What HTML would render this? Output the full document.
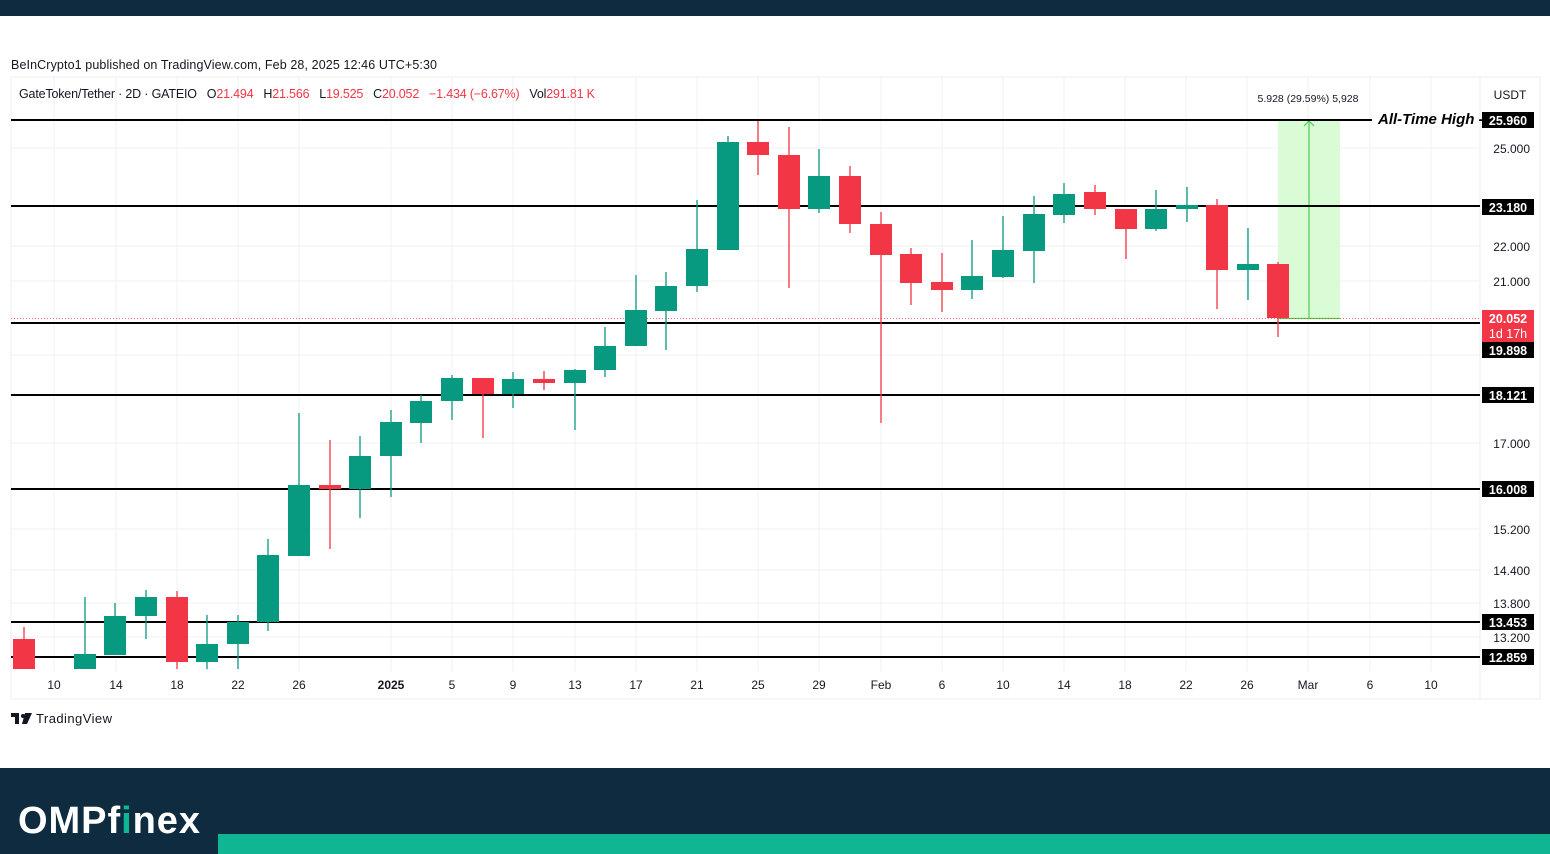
<!DOCTYPE html>
<html><head><meta charset="utf-8"><style>
html,body{margin:0;padding:0;background:#fff;width:1550px;height:854px;overflow:hidden;font-family:"Liberation Sans",sans-serif}
</style></head><body>
<svg width="1550" height="854" xmlns="http://www.w3.org/2000/svg" font-family="Liberation Sans, sans-serif">
<rect x="0" y="0" width="1550" height="16" fill="#0f2b40"/>
<text x="11" y="69" font-size="12.5" fill="#131722" textLength="426">BeInCrypto1 published on TradingView.com, Feb 28, 2025 12:46 UTC+5:30</text>
<rect x="11" y="77" width="1529" height="622" fill="none" stroke="#eceef2"/>
<line x1="1480" y1="77" x2="1480" y2="699" stroke="#eceef2"/>
<g stroke="#f0f1f4" stroke-width="1">
<line x1="54" y1="77" x2="54" y2="672"/><line x1="116" y1="77" x2="116" y2="672"/><line x1="177" y1="77" x2="177" y2="672"/><line x1="238" y1="77" x2="238" y2="672"/><line x1="299" y1="77" x2="299" y2="672"/><line x1="391" y1="77" x2="391" y2="672"/><line x1="452" y1="77" x2="452" y2="672"/><line x1="513" y1="77" x2="513" y2="672"/><line x1="575" y1="77" x2="575" y2="672"/><line x1="636" y1="77" x2="636" y2="672"/><line x1="697" y1="77" x2="697" y2="672"/><line x1="758" y1="77" x2="758" y2="672"/><line x1="819" y1="77" x2="819" y2="672"/><line x1="881" y1="77" x2="881" y2="672"/><line x1="942" y1="77" x2="942" y2="672"/><line x1="1003" y1="77" x2="1003" y2="672"/><line x1="1064" y1="77" x2="1064" y2="672"/><line x1="1125" y1="77" x2="1125" y2="672"/><line x1="1186" y1="77" x2="1186" y2="672"/><line x1="1247" y1="77" x2="1247" y2="672"/><line x1="1308" y1="77" x2="1308" y2="672"/><line x1="1370" y1="77" x2="1370" y2="672"/><line x1="1431" y1="77" x2="1431" y2="672"/>
<line x1="11" y1="148" x2="1480" y2="148"/><line x1="11" y1="246" x2="1480" y2="246"/><line x1="11" y1="281" x2="1480" y2="281"/><line x1="11" y1="355" x2="1480" y2="355"/><line x1="11" y1="443" x2="1480" y2="443"/><line x1="11" y1="529" x2="1480" y2="529"/><line x1="11" y1="570" x2="1480" y2="570"/><line x1="11" y1="603" x2="1480" y2="603"/><line x1="11" y1="637" x2="1480" y2="637"/>
</g>
<text x="19" y="98" font-size="12.5" fill="#131722" textLength="576" xml:space="preserve">GateToken/Tether · 2D · GATEIO   O<tspan fill="#f23645">21.494</tspan>   H<tspan fill="#f23645">21.566</tspan>   L<tspan fill="#f23645">19.525</tspan>   C<tspan fill="#f23645">20.052   −1.434 (−6.67%)</tspan>   Vol<tspan fill="#f23645">291.81 K</tspan></text>
<rect x="1278" y="120" width="62" height="198" fill="#d9fbd6"/>
<line x1="1309" y1="318" x2="1309" y2="121" stroke="#4cd04c" stroke-width="1.2"/>
<polyline points="1304,126 1309,121 1314,126" fill="none" stroke="#4cd04c" stroke-width="1.2"/>
<line x1="1278" y1="318.5" x2="1340" y2="318.5" stroke="#4cd04c" stroke-width="1.2"/>
<text x="1308" y="102" font-size="10.5" fill="#131722" text-anchor="middle">5.928 (29.59%) 5,928</text>
<line x1="11" y1="318.5" x2="1480" y2="318.5" stroke="#f23645" stroke-width="0.8" stroke-dasharray="1,2"/>
<g stroke="#000" stroke-width="2">
<line x1="11" y1="120" x2="1372" y2="120"/><line x1="11" y1="206" x2="1480" y2="206"/><line x1="11" y1="323" x2="1480" y2="323"/><line x1="11" y1="395" x2="1480" y2="395"/><line x1="11" y1="489" x2="1480" y2="489"/><line x1="11" y1="622" x2="1480" y2="622"/><line x1="11" y1="657" x2="1480" y2="657"/>
</g>
<text x="1378" y="124" font-size="15" font-style="italic" font-weight="bold" fill="#000">All-Time High -</text>
<g id="candles"></g>
<g font-size="12" fill="#131722" text-anchor="end">
<text x="1530" y="153">25.000</text><text x="1530" y="251">22.000</text><text x="1530" y="286">21.000</text><text x="1530" y="448">17.000</text><text x="1530" y="534">15.200</text><text x="1530" y="575">14.400</text><text x="1530" y="608">13.800</text><text x="1530" y="642">13.200</text>
</g>
<text x="1510" y="99" font-size="12" fill="#131722" text-anchor="middle">USDT</text>
<g font-size="12.5" font-weight="bold" fill="#fff" text-anchor="middle">
<rect x="1482" y="112" width="52" height="16" fill="#000"/><text x="1508" y="125">25.960</text>
<rect x="1482" y="199" width="52" height="16" fill="#000"/><text x="1508" y="212">23.180</text>
<rect x="1482" y="310" width="52" height="32" fill="#f23645"/><text x="1508" y="323">20.052</text><text x="1508" y="338" font-weight="normal">1d 17h</text>
<rect x="1482" y="342" width="52" height="16" fill="#000"/><text x="1508" y="355">19.898</text>
<rect x="1482" y="387" width="52" height="16" fill="#000"/><text x="1508" y="400">18.121</text>
<rect x="1482" y="481" width="52" height="16" fill="#000"/><text x="1508" y="494">16.008</text>
<rect x="1482" y="614" width="52" height="16" fill="#000"/><text x="1508" y="627">13.453</text>
<rect x="1482" y="649" width="52" height="16" fill="#000"/><text x="1508" y="662">12.859</text>
</g>
<g font-size="12" fill="#131722" text-anchor="middle">
<text x="54" y="689">10</text><text x="116" y="689">14</text><text x="177" y="689">18</text><text x="238" y="689">22</text><text x="299" y="689">26</text><text x="391" y="689" font-weight="bold">2025</text><text x="452" y="689">5</text><text x="513" y="689">9</text><text x="575" y="689">13</text><text x="636" y="689">17</text><text x="697" y="689">21</text><text x="758" y="689">25</text><text x="819" y="689">29</text><text x="881" y="689">Feb</text><text x="942" y="689">6</text><text x="1003" y="689">10</text><text x="1064" y="689">14</text><text x="1125" y="689">18</text><text x="1186" y="689">22</text><text x="1247" y="689">26</text><text x="1308" y="689">Mar</text><text x="1370" y="689">6</text><text x="1431" y="689">10</text>
</g>
<g fill="#131722"><rect x="11" y="713" width="8" height="4"/><rect x="15" y="713" width="4" height="11"/><circle cx="23" cy="716" r="2"/><polygon points="25,713 32,713 27,724 22,724"/></g>
<text x="36" y="723" font-size="13" fill="#131722" textLength="76">TradingView</text>
<rect x="0" y="768" width="1550" height="86" fill="#0f2b40"/>
<rect x="218" y="834" width="1332" height="20" fill="#10b693"/>
<text x="18" y="833" font-size="38" font-weight="bold" fill="#fff" textLength="182">OMPf<tspan fill="#10b693">i</tspan>nex</text>
</svg>
<script>
var d=[[24,639,669,627,669],[85,669,654,597,669],[115,655,616,603,655],[146,616,597,590,639],[177,597,662,591,669],[207,662,644,615,669],[238,644,622,615,669],[268,622,555,539,631],[299,556,485,413,556],[330,485,489,440,549],[360,489,456,436,518],[391,456,422,410,497],[421,423,401,395,443],[452,401,378,375,420],[483,378,394,378,438],[513,394,379,372,408],[544,379,383,371,390],[575,383,370,369,430],[605,370,346,327,377],[636,346,310,275,346],[666,311,286,272,350],[697,286,249,200,292],[728,250,142,136,250],[758,142,155,121,175],[789,155,209,127,288],[819,209,176,149,213],[850,176,224,166,233],[881,224,255,212,423],[911,254,283,248,305],[942,282,290,253,312],[972,290,276,240,299],[1003,277,250,216,278],[1034,251,214,196,283],[1064,215,194,183,223],[1095,192,209,185,215],[1126,209,229,209,259],[1156,229,209,190,231],[1187,209,205,187,222],[1217,205,270,199,309],[1248,270,264,228,300],[1278,264,318,262,337]];
var g=document.getElementById('candles'),s='';
d.forEach(function(c){var up=c[2]<c[1];var col=up?'#089981':'#f23645';var t=Math.min(c[1],c[2]),b=Math.max(c[1],c[2]);if(b-t<3){b=t+3;}
s+='<line x1="'+c[0]+'" y1="'+c[3]+'" x2="'+c[0]+'" y2="'+c[4]+'" stroke="'+col+'" stroke-width="1.3"/>';
s+='<rect x="'+(c[0]-11)+'" y="'+t+'" width="22" height="'+(b-t)+'" fill="'+col+'"/>';});
g.innerHTML=s;
</script>
</body></html>
